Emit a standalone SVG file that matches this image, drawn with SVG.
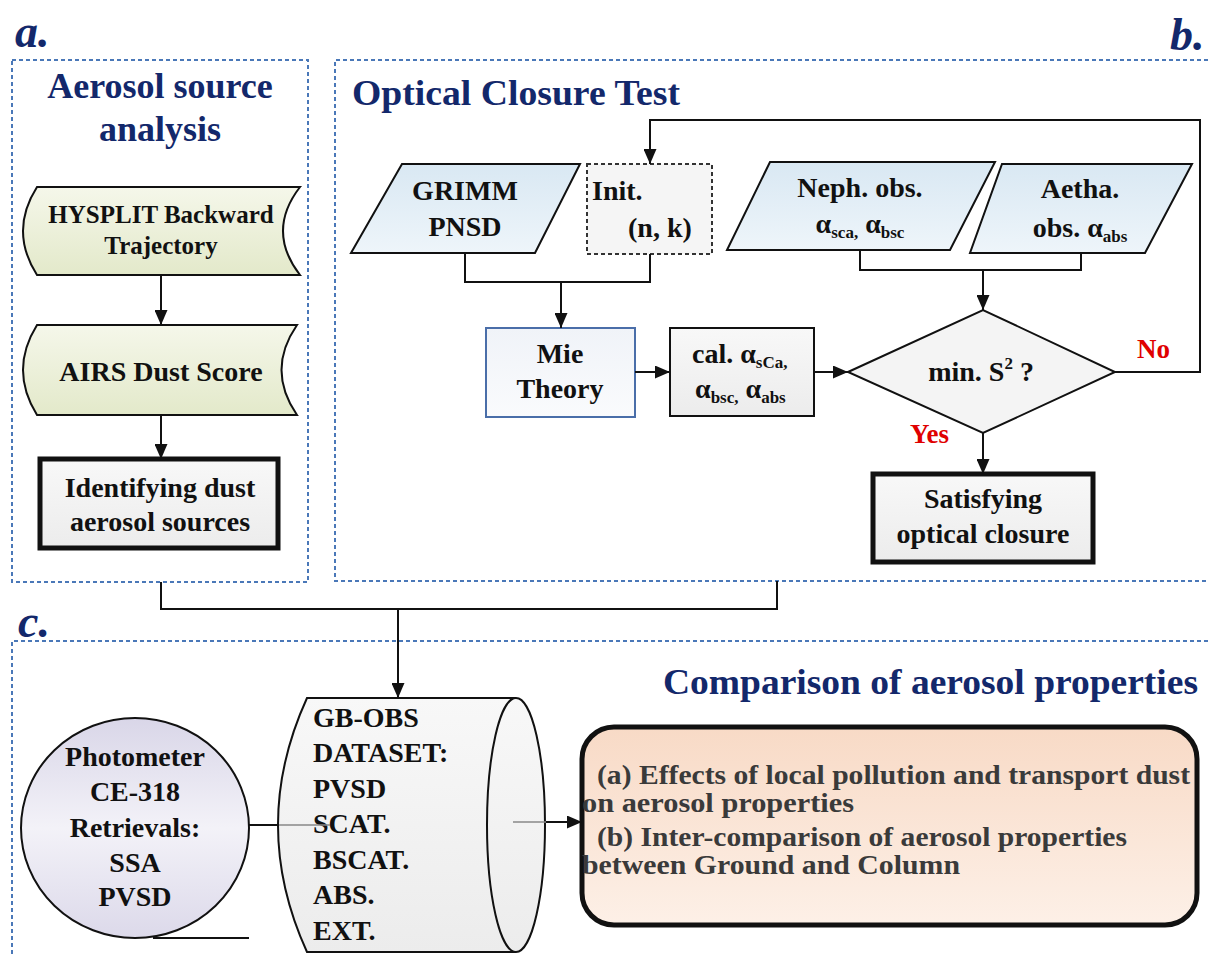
<svg xmlns="http://www.w3.org/2000/svg" width="1208" height="955" viewBox="0 0 1208 955">
<defs>
<linearGradient id="gGreen" x1="0" y1="0" x2="0" y2="1"><stop offset="0" stop-color="#f5f7ea"/><stop offset="1" stop-color="#e3e9ca"/></linearGradient>
<linearGradient id="gBlue" x1="0" y1="0" x2="0" y2="1"><stop offset="0" stop-color="#d9e8f3"/><stop offset="1" stop-color="#eef5fa"/></linearGradient>
<linearGradient id="gGray" x1="0" y1="0" x2="0" y2="1"><stop offset="0" stop-color="#f8f8f8"/><stop offset="1" stop-color="#ececec"/></linearGradient>
<linearGradient id="gMie" x1="0" y1="0" x2="0" y2="1"><stop offset="0" stop-color="#f0f3f8"/><stop offset="1" stop-color="#fafbfd"/></linearGradient>
<linearGradient id="gLav" x1="0" y1="0" x2="0" y2="1"><stop offset="0" stop-color="#d9d6e8"/><stop offset="0.5" stop-color="#f3f2f8"/><stop offset="1" stop-color="#dcd9ea"/></linearGradient>
<linearGradient id="gPeach" x1="0" y1="0" x2="0" y2="1"><stop offset="0" stop-color="#f8dac6"/><stop offset="1" stop-color="#fdf0e7"/></linearGradient>
<marker id="arr" markerUnits="userSpaceOnUse" markerWidth="15" markerHeight="13" viewBox="0 0 15 13" refX="15" refY="6.5" orient="auto"><path d="M0,0 L15,6.5 L0,13 z" fill="#111"/></marker>
</defs>
<style>
text{font-family:"Liberation Serif","Times New Roman",serif;font-weight:bold;fill:#111;}
.frame{fill:none;stroke:#4a78b8;stroke-width:2;stroke-dasharray:4,3;}
.title{fill:#13286b;font-size:36px;}
.lbl{fill:#13286b;font-size:46px;font-style:italic;}
.t28{font-size:28px;}
.c{text-anchor:middle;}
.red{fill:#e00000;font-size:27px;}
.sub{font-size:17px;}
.res{fill:#3a3a3a;font-size:28px;}
.conn{fill:none;stroke:#111;stroke-width:2;}
</style>

<g id="frame-a">
<rect class="frame" x="12" y="60" width="296" height="522"/>
<text class="lbl" x="15" y="47">a.</text>
<text class="title c" x="160" y="98" font-size="37">Aerosol source</text>
<text class="title c" x="160" y="141" font-size="37">analysis</text>
</g>
<g id="frame-b">
<path class="frame" d="M1215,60 H335 V581 H1215"/>
<text class="lbl" x="1170" y="50">b.</text>
<text class="title" x="352" y="105" textLength="328" lengthAdjust="spacingAndGlyphs">Optical Closure Test</text>
</g>
<g id="frame-c">
<path class="frame" d="M1215,641 H12 V960"/>
<text class="lbl" x="18" y="637">c.</text>
<text class="title" x="663" y="694" textLength="535" lengthAdjust="spacingAndGlyphs">Comparison of aerosol properties</text>
</g>

<g id="hysplit">
<path d="M37,187 H300 Q266,231 300,275 H37 Q9,231 37,187 Z" fill="url(#gGreen)" stroke="#111" stroke-width="2"/>
<text class="c" x="161" y="223" font-size="25">HYSPLIT Backward</text>
<text class="c" x="161" y="254" font-size="25">Trajectory</text>
</g>
<g id="airs">
<path d="M37,325 H297 Q266,370 297,415 H37 Q9,370 37,325 Z" fill="url(#gGreen)" stroke="#111" stroke-width="2"/>
<text class="c t28" x="161" y="381">AIRS Dust Score</text>
</g>
<g id="identifying">
<rect x="40" y="459" width="238" height="89" fill="url(#gGray)" stroke="#111" stroke-width="5"/>
<text class="c t28" x="160" y="497">Identifying dust</text>
<text class="c t28" x="160" y="531">aerosol sources</text>
</g>

<g id="grimm">
<path d="M402,164 H580 L535,253 H351 Z" fill="url(#gBlue)" stroke="#111" stroke-width="2"/>
<text class="c t28" x="465" y="200">GRIMM</text>
<text class="c t28" x="465" y="236">PNSD</text>
</g>
<g id="init">
<rect x="587" y="164" width="125" height="90" fill="#f5f5f5" stroke="#333" stroke-width="2" stroke-dasharray="4,3"/>
<text class="t28" x="592" y="200">Init.</text>
<text class="t28" x="628" y="237">(n, k)</text>
</g>
<g id="neph">
<path d="M770,162 H995 L950,250 H727 Z" fill="url(#gBlue)" stroke="#111" stroke-width="2"/>
<text class="c t28" x="860" y="197">Neph. obs.</text>
<text class="c t28" x="860" y="233">α<tspan class="sub" dy="5">sca,</tspan><tspan dy="-5"> α</tspan><tspan class="sub" dy="5">bsc</tspan></text>
</g>
<g id="aetha">
<path d="M1002,164 H1192 L1145,253 H970 Z" fill="url(#gBlue)" stroke="#111" stroke-width="2"/>
<text class="c t28" x="1080" y="198">Aetha.</text>
<text class="c t28" x="1080" y="237">obs. α<tspan class="sub" dy="5">abs</tspan></text>
</g>
<g id="mie">
<rect x="486" y="328" width="149" height="89" fill="url(#gMie)" stroke="#4a6ea9" stroke-width="2"/>
<text class="c t28" x="560" y="363">Mie</text>
<text class="c t28" x="560" y="398">Theory</text>
</g>
<g id="cal">
<rect x="670" y="328" width="144" height="88" fill="url(#gGray)" stroke="#111" stroke-width="2"/>
<text class="t28" x="692" y="363">cal. α<tspan class="sub" dy="5">sCa,</tspan></text>
<text class="t28" x="695" y="398">α<tspan class="sub" dy="5">bsc,</tspan><tspan dy="-5"> α</tspan><tspan class="sub" dy="5">abs</tspan></text>
</g>
<g id="decision">
<path d="M848,372 L983,310 L1115,372 L983,433 Z" fill="#f4f4f4" stroke="#111" stroke-width="2"/>
<text class="c t28" x="981" y="381">min. S<tspan font-size="17" dy="-12">2</tspan><tspan dy="12"> ?</tspan></text>
<text class="red" x="1137" y="358">No</text>
<text class="red" x="910" y="443">Yes</text>
</g>
<g id="satisfying">
<rect x="873" y="474" width="220" height="88" fill="url(#gGray)" stroke="#111" stroke-width="5"/>
<text class="c t28" x="983" y="508">Satisfying</text>
<text class="c t28" x="983" y="543">optical closure</text>
</g>

<g id="photometer">
<ellipse cx="135" cy="828" rx="114" ry="110" fill="url(#gLav)" stroke="#111" stroke-width="2"/>
<text class="c t28" x="135" y="766">Photometer</text>
<text class="c t28" x="135" y="801">CE-318</text>
<text class="c t28" x="135" y="837">Retrievals:</text>
<text class="c t28" x="135" y="872">SSA</text>
<text class="c t28" x="135" y="906">PVSD</text>
</g>
<g id="dataset">
<path d="M307,698 H516 A29,127 0 0 1 516,952 H307 Q249,825 307,698 Z" fill="url(#gGray)" stroke="#111" stroke-width="2"/>
<path d="M516,698 A29,127 0 0 0 516,952" fill="none" stroke="#111" stroke-width="2"/>
<text class="t28" x="313" y="727">GB-OBS</text>
<text class="t28" x="313" y="762">DATASET:</text>
<text class="t28" x="313" y="798">PVSD</text>
<text class="t28" x="313" y="833">SCAT.</text>
<text class="t28" x="313" y="869">BSCAT.</text>
<text class="t28" x="313" y="904">ABS.</text>
<text class="t28" x="313" y="940">EXT.</text>
</g>
<g id="results">
<rect x="582" y="727" width="615" height="198" rx="32" fill="url(#gPeach)" stroke="#111" stroke-width="5"/>
<text class="res" x="597" y="784" textLength="593" lengthAdjust="spacingAndGlyphs">(a) Effects of local pollution and transport dust</text>
<text class="res" x="582" y="812" textLength="272" lengthAdjust="spacingAndGlyphs">on aerosol properties</text>
<text class="res" x="597" y="846" textLength="530" lengthAdjust="spacingAndGlyphs">(b)  Inter-comparison of aerosol properties</text>
<text class="res" x="582" y="874" textLength="378" lengthAdjust="spacingAndGlyphs">between Ground and Column</text>
</g>

<g id="connectors">
<path class="conn" d="M161,275 V325" marker-end="url(#arr)"/>
<path class="conn" d="M161,415 V459" marker-end="url(#arr)"/>
<path class="conn" d="M161,582 V609 H777 V581"/>
<path class="conn" d="M398,609 V698" marker-end="url(#arr)"/>
<path class="conn" d="M465,253 V282 H650 V254"/>
<path class="conn" d="M561,282 V328" marker-end="url(#arr)"/>
<path class="conn" d="M1115,372 H1200 V120 H650 V164" marker-end="url(#arr)"/>
<path class="conn" d="M635,372 H670" marker-end="url(#arr)"/>
<path class="conn" d="M814,372 H848" marker-end="url(#arr)"/>
<path class="conn" d="M860,250 V270 H1081 V253"/>
<path class="conn" d="M983,270 V310" marker-end="url(#arr)"/>
<path class="conn" d="M983,433 V474" marker-end="url(#arr)"/>
<path class="conn" d="M249,825 H279"/>
<path d="M279,825 H330" fill="none" stroke="#888" stroke-width="1.5"/>
<path class="conn" d="M153,938 H249"/>
<path d="M513,822 H548" fill="none" stroke="#888" stroke-width="1.5"/>
<path class="conn" d="M546,822 H582" marker-end="url(#arr)"/>
</g>
</svg>
